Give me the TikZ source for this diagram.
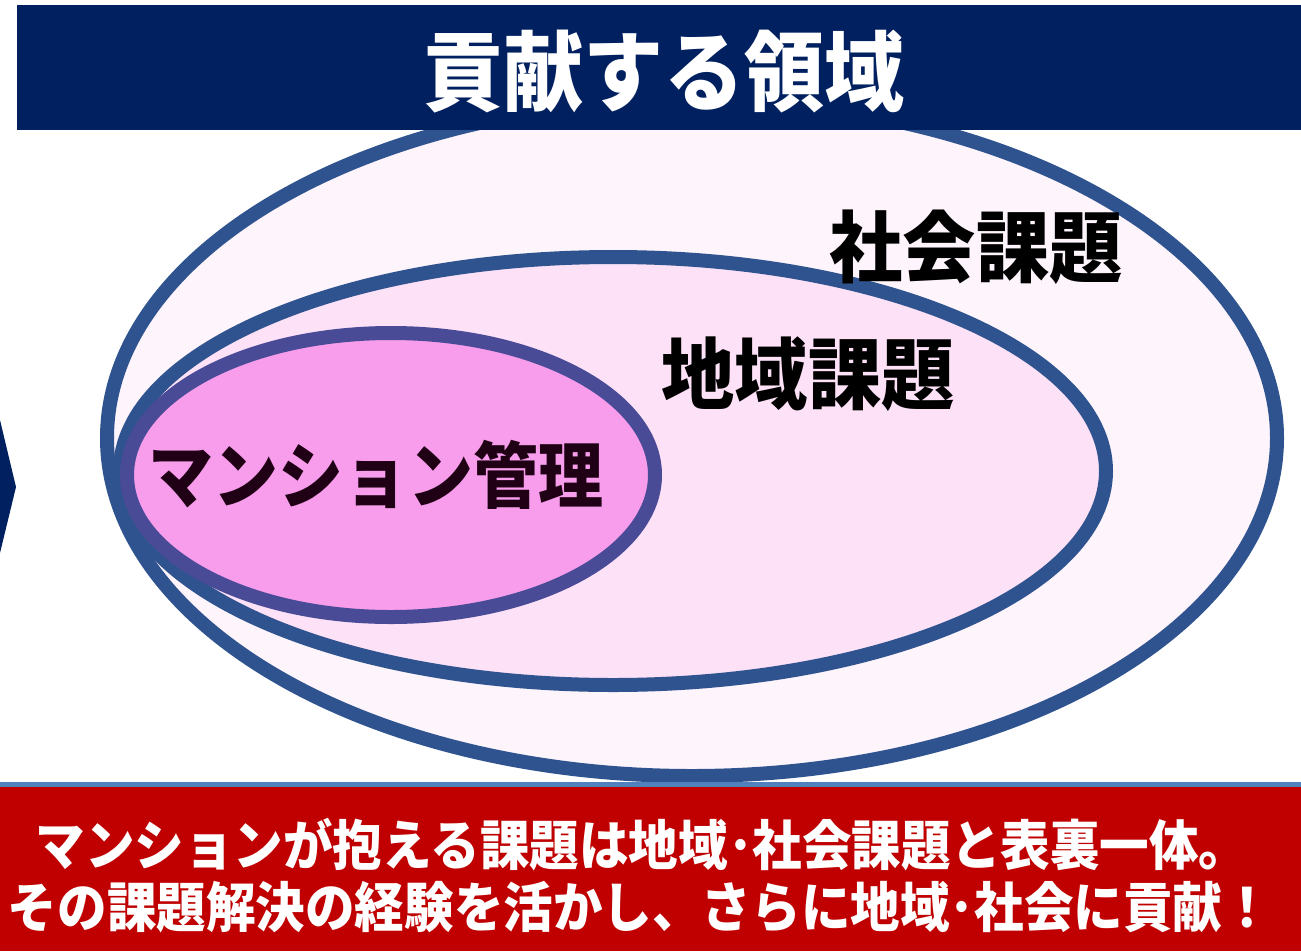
\documentclass[tikz,border=0pt]{standalone}
\usepackage{fontspec}
\usepackage{tikz}
\usetikzlibrary{shapes.geometric}
\newfontfamily\jpfont{Noto Sans CJK JP}
\definecolor{navy}{RGB}{0,32,96}
\definecolor{ringblue}{RGB}{47,83,143}
\definecolor{ringpurple}{RGB}{74,75,151}
\definecolor{fillsoc}{RGB}{253,244,252}
\definecolor{fillreg}{RGB}{252,225,247}
\definecolor{fillman}{RGB}{247,157,236}
\definecolor{textman}{RGB}{31,0,20}
\definecolor{bandred}{RGB}{192,0,0}
\definecolor{bandline}{RGB}{79,129,189}

\begin{document}
\begin{tikzpicture}[x=1pt, y=-1pt, thick,
	ring/.style = {draw=ringblue, ellipse, line width=14pt, inner sep=0pt},
	lbl/.style = {font=\jpfont\bfseries\fontsize{78}{78}\selectfont, transform shape, xscale=0.94, inner sep=0pt},
	band/.style = {font=\jpfont\bfseries\fontsize{54}{54}\selectfont, text=white, transform shape, xscale=0.918, inner sep=0pt}]
		\useasboundingbox (0,0) rectangle (1301,951);
		\fill[white] (0,0) rectangle (1301,951);
		% left arrow tip
		\fill[navy] (0,420) -- (16,487) -- (0,553) -- cycle;
		% rings
		\node[ring, fill=fillsoc, minimum width=1170pt, minimum height=676pt] (soc) at (692,438) {};
		\node[ring, fill=fillreg, minimum width=986pt, minimum height=428pt] (reg) at (613,471) {};
		\node[ring, draw=ringpurple, fill=fillman, minimum width=528pt, minimum height=284pt] (man) at (391,475) {};
		\node[lbl] (t1) at (976,247) {社会課題};
		\node[lbl] (t2) at (808,374) {地域課題};
		\node[lbl, text=textman, font=\jpfont\bfseries\fontsize{72}{72}\selectfont, xscale=0.96] (t3) at (376,475) {マンション管理};
		% title banner
		\fill[navy] (17,5) rectangle (1301,130);
		\node[font=\jpfont\bfseries\fontsize{87}{87}\selectfont, text=white, transform shape, xscale=0.92, inner sep=0pt] (title) at (664,72) {貢献する領域};
		% bottom band
		\fill[bandline] (0,782) rectangle (1301,787);
		\fill[bandred] (0,787) rectangle (1301,951);
		\node[band] (b1) at (642,845) {マンションが抱える課題は地域･社会課題と表裏一体。};
		\node[band] (b2) at (640,907) {その課題解決の経験を活かし、さらに地域･社会に貢献！};
	\end{tikzpicture}
\end{document}
